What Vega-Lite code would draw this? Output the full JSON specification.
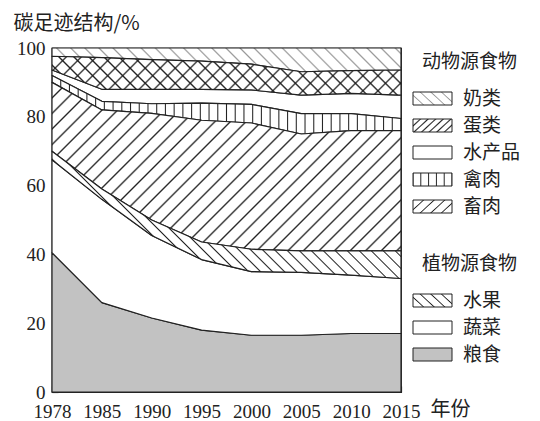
{
"$schema":"https://vega.github.io/schema/vega-lite/v6.json",
"width":349,"height":344,
"autosize":{"type":"none"},
"padding":{"left":52,"top":48,"right":139,"bottom":29},
"config":{"font":"Noto Sans CJK SC","view":{"stroke":"#222","strokeWidth":1.2}},
"data":{"values":[
{"year":"1978","food":"粮食","group":"plant","order":1,"value":40.5},
{"year":"1985","food":"粮食","group":"plant","order":1,"value":26},
{"year":"1990","food":"粮食","group":"plant","order":1,"value":21.5},
{"year":"1995","food":"粮食","group":"plant","order":1,"value":18},
{"year":"2000","food":"粮食","group":"plant","order":1,"value":16.5},
{"year":"2005","food":"粮食","group":"plant","order":1,"value":16.5},
{"year":"2010","food":"粮食","group":"plant","order":1,"value":17},
{"year":"2015","food":"粮食","group":"plant","order":1,"value":17},
{"year":"1978","food":"蔬菜","group":"plant","order":2,"value":27},
{"year":"1985","food":"蔬菜","group":"plant","order":2,"value":30},
{"year":"1990","food":"蔬菜","group":"plant","order":2,"value":24},
{"year":"1995","food":"蔬菜","group":"plant","order":2,"value":20.5},
{"year":"2000","food":"蔬菜","group":"plant","order":2,"value":18.5},
{"year":"2005","food":"蔬菜","group":"plant","order":2,"value":18.3},
{"year":"2010","food":"蔬菜","group":"plant","order":2,"value":17},
{"year":"2015","food":"蔬菜","group":"plant","order":2,"value":16},
{"year":"1978","food":"水果","group":"plant","order":3,"value":2.5},
{"year":"1985","food":"水果","group":"plant","order":3,"value":3},
{"year":"1990","food":"水果","group":"plant","order":3,"value":4.5},
{"year":"1995","food":"水果","group":"plant","order":3,"value":5.1},
{"year":"2000","food":"水果","group":"plant","order":3,"value":6.5},
{"year":"2005","food":"水果","group":"plant","order":3,"value":6.2},
{"year":"2010","food":"水果","group":"plant","order":3,"value":7},
{"year":"2015","food":"水果","group":"plant","order":3,"value":8},
{"year":"1978","food":"畜肉","group":"animal","order":4,"value":20},
{"year":"1985","food":"畜肉","group":"animal","order":4,"value":23},
{"year":"1990","food":"畜肉","group":"animal","order":4,"value":31},
{"year":"1995","food":"畜肉","group":"animal","order":4,"value":35.4},
{"year":"2000","food":"畜肉","group":"animal","order":4,"value":36.7},
{"year":"2005","food":"畜肉","group":"animal","order":4,"value":34},
{"year":"2010","food":"畜肉","group":"animal","order":4,"value":35},
{"year":"2015","food":"畜肉","group":"animal","order":4,"value":35},
{"year":"1978","food":"禽肉","group":"animal","order":5,"value":2},
{"year":"1985","food":"禽肉","group":"animal","order":5,"value":2.5},
{"year":"1990","food":"禽肉","group":"animal","order":5,"value":2.8},
{"year":"1995","food":"禽肉","group":"animal","order":5,"value":5},
{"year":"2000","food":"禽肉","group":"animal","order":5,"value":5.4},
{"year":"2005","food":"禽肉","group":"animal","order":5,"value":5.9},
{"year":"2010","food":"禽肉","group":"animal","order":5,"value":4.9},
{"year":"2015","food":"禽肉","group":"animal","order":5,"value":3.5},
{"year":"1978","food":"水产品","group":"animal","order":6,"value":1.6},
{"year":"1985","food":"水产品","group":"animal","order":6,"value":3.5},
{"year":"1990","food":"水产品","group":"animal","order":6,"value":4.2},
{"year":"1995","food":"水产品","group":"animal","order":6,"value":4},
{"year":"2000","food":"水产品","group":"animal","order":6,"value":4.2},
{"year":"2005","food":"水产品","group":"animal","order":6,"value":5.4},
{"year":"2010","food":"水产品","group":"animal","order":6,"value":5.9},
{"year":"2015","food":"水产品","group":"animal","order":6,"value":6.8},
{"year":"1978","food":"蛋类","group":"animal","order":7,"value":4},
{"year":"1985","food":"蛋类","group":"animal","order":7,"value":9.2},
{"year":"1990","food":"蛋类","group":"animal","order":7,"value":8.6},
{"year":"1995","food":"蛋类","group":"animal","order":7,"value":8.2},
{"year":"2000","food":"蛋类","group":"animal","order":7,"value":7.5},
{"year":"2005","food":"蛋类","group":"animal","order":7,"value":6.8},
{"year":"2010","food":"蛋类","group":"animal","order":7,"value":6.6},
{"year":"2015","food":"蛋类","group":"animal","order":7,"value":7.3},
{"year":"1978","food":"奶类","group":"animal","order":8,"value":2.4},
{"year":"1985","food":"奶类","group":"animal","order":8,"value":2.8},
{"year":"1990","food":"奶类","group":"animal","order":8,"value":3.4},
{"year":"1995","food":"奶类","group":"animal","order":8,"value":3.8},
{"year":"2000","food":"奶类","group":"animal","order":8,"value":4.7},
{"year":"2005","food":"奶类","group":"animal","order":8,"value":6.9},
{"year":"2010","food":"奶类","group":"animal","order":8,"value":6.6},
{"year":"2015","food":"奶类","group":"animal","order":8,"value":6.4}
]},
"transform":[{"stack":"value","groupby":["year"],"sort":[{"field":"order","order":"ascending"}],"as":["v0","v1"]}],
"encoding":{
"x":{"field":"year","type":"ordinal","scale":{"type":"point","padding":0},
"axis":{"title":"年份","labelAngle":0,"labelOverlap":false,"labelFlush":false,"grid":false,"tickSize":-6,"tickColor":"#222","tickWidth":1.2,"domainColor":"#222","domainWidth":1.2,"labelFont":"Liberation Serif","labelFontSize":19,"labelColor":"#222","labelPadding":16,"titleFont":"Noto Sans CJK SC","titleFontSize":20,"titleFontWeight":"normal","titleColor":"#222","titleX":378,"titleY":17,"titleAlign":"left","titleBaseline":"middle"}},
"y":{"field":"v1","type":"quantitative","scale":{"domain":[0,100],"nice":false},
"axis":{"title":"碳足迹结构/%","values":[0,20,40,60,80,100],"grid":false,"tickSize":-6,"tickColor":"#222","tickWidth":1.2,"domainColor":"#222","domainWidth":1.2,"labelFont":"Liberation Serif","labelFontSize":19,"labelColor":"#222","labelPadding":13,"labelFlush":false,"titleFont":"Noto Sans CJK SC","titleFontSize":20,"titleFontWeight":"normal","titleColor":"#222","titleAngle":0,"titleX":-39,"titleY":-25,"titleAlign":"left","titleBaseline":"middle"}},
"y2":{"field":"v0"}
},
"layer":[
{"transform":[{"filter":"datum.group==='animal'"}],
"mark":{"type":"area"},
"encoding":{"fill":{"field":"food","type":"nominal","scale":{"domain":["奶类","蛋类","水产品","禽肉","畜肉"],"range":[
{"expr":"{gradient:'linear',x1:0,y1:1,x2:1.204,y2:0.565,stops:[{offset:0,color:'#999'},{offset:0.025,color:'#fff'},{offset:0.175,color:'#fff'},{offset:0.2,color:'#999'},{offset:0.225,color:'#fff'},{offset:0.375,color:'#fff'},{offset:0.4,color:'#999'},{offset:0.425,color:'#fff'},{offset:0.575,color:'#fff'},{offset:0.6,color:'#999'},{offset:0.625,color:'#fff'},{offset:0.775,color:'#fff'},{offset:0.8,color:'#999'},{offset:0.825,color:'#fff'},{offset:0.975,color:'#fff'},{offset:1,color:'#999'}]}"},
{"expr":"{gradient:'linear',x1:0,y1:0,x2:1.204,y2:0.435,stops:[{offset:0,color:'#222'},{offset:0.03,color:'#fff'},{offset:0.112,color:'#fff'},{offset:0.142,color:'#222'},{offset:0.172,color:'#fff'},{offset:0.255,color:'#fff'},{offset:0.285,color:'#222'},{offset:0.315,color:'#fff'},{offset:0.398,color:'#fff'},{offset:0.428,color:'#222'},{offset:0.458,color:'#fff'},{offset:0.541,color:'#fff'},{offset:0.571,color:'#222'},{offset:0.601,color:'#fff'},{offset:0.684,color:'#fff'},{offset:0.714,color:'#222'},{offset:0.744,color:'#fff'},{offset:0.827,color:'#fff'},{offset:0.857,color:'#222'},{offset:0.887,color:'#fff'},{offset:0.97,color:'#fff'},{offset:1,color:'#222'}]}"},
"#ffffff",
{"expr":"{gradient:'linear',x1:0,y1:0,x2:1,y2:0,stops:[{offset:0,color:'#222'},{offset:0.025,color:'#fff'},{offset:0.175,color:'#fff'},{offset:0.2,color:'#222'},{offset:0.225,color:'#fff'},{offset:0.375,color:'#fff'},{offset:0.4,color:'#222'},{offset:0.425,color:'#fff'},{offset:0.575,color:'#fff'},{offset:0.6,color:'#222'},{offset:0.625,color:'#fff'},{offset:0.775,color:'#fff'},{offset:0.8,color:'#222'},{offset:0.825,color:'#fff'},{offset:0.975,color:'#fff'},{offset:1,color:'#222'}]}"},
{"expr":"{gradient:'linear',x1:0,y1:0,x2:1.204,y2:0.435,stops:[{offset:0,color:'#222'},{offset:0.025,color:'#fff'},{offset:0.175,color:'#fff'},{offset:0.2,color:'#222'},{offset:0.225,color:'#fff'},{offset:0.375,color:'#fff'},{offset:0.4,color:'#222'},{offset:0.425,color:'#fff'},{offset:0.575,color:'#fff'},{offset:0.6,color:'#222'},{offset:0.625,color:'#fff'},{offset:0.775,color:'#fff'},{offset:0.8,color:'#222'},{offset:0.825,color:'#fff'},{offset:0.975,color:'#fff'},{offset:1,color:'#222'}]}"}
]},
"legend":{"title":"动物源食物","orient":"none","legendX":370,"legendY":5,"padding":0,"symbolType":"M-1.95,-0.65H1.95V0.65H-1.95Z","symbolSize":400,"symbolStrokeColor":"#222","symbolStrokeWidth":1,"symbolOpacity":1,"labelFont":"Noto Sans CJK SC","labelFontSize":19,"labelColor":"#222","labelOffset":20,"titleFont":"Noto Sans CJK SC","titleFontSize":19,"titleFontWeight":"normal","titleColor":"#222","titlePadding":16,"rowPadding":6}}}},
{"transform":[{"filter":"datum.group==='plant'"}],
"mark":{"type":"area"},
"encoding":{"fill":{"field":"food","type":"nominal","scale":{"domain":["水果","蔬菜","粮食"],"range":[
{"expr":"{gradient:'linear',x1:0,y1:1,x2:1.204,y2:0.565,stops:[{offset:0,color:'#222'},{offset:0.025,color:'#fff'},{offset:0.175,color:'#fff'},{offset:0.2,color:'#222'},{offset:0.225,color:'#fff'},{offset:0.375,color:'#fff'},{offset:0.4,color:'#222'},{offset:0.425,color:'#fff'},{offset:0.575,color:'#fff'},{offset:0.6,color:'#222'},{offset:0.625,color:'#fff'},{offset:0.775,color:'#fff'},{offset:0.8,color:'#222'},{offset:0.825,color:'#fff'},{offset:0.975,color:'#fff'},{offset:1,color:'#222'}]}"},
"#ffffff","#c2c2c2"]},
"legend":{"title":"植物源食物","orient":"none","legendX":370,"legendY":207,"padding":0,"symbolType":"M-1.95,-0.65H1.95V0.65H-1.95Z","symbolSize":400,"symbolStrokeColor":"#222","symbolStrokeWidth":1,"symbolOpacity":1,"labelFont":"Noto Sans CJK SC","labelFontSize":19,"labelColor":"#222","labelOffset":20,"titleFont":"Noto Sans CJK SC","titleFontSize":19,"titleFontWeight":"normal","titleColor":"#222","titlePadding":16,"rowPadding":6}}}},
{"transform":[{"filter":"datum.food==='水产品'||datum.food==='蔬菜'||datum.food==='粮食'"}],
"mark":{"type":"area","stroke":"#222","strokeWidth":1.2,"strokeJoin":"round"},
"encoding":{"fill":{"field":"food","type":"nominal","legend":null,"scale":{"domain":["水产品","蔬菜","粮食"],"range":["#ffffff","#ffffff","#c2c2c2"]}}}},
{"transform":[{"filter":"datum.food==='奶类'"}],
"mark":{"type":"area","stroke":"#222","strokeWidth":1.2,"strokeJoin":"round","fill":
{"gradient":"linear","x1":0,"y1":1,"x2":1.61,"y2":0.891,"stops":[{"offset":0,"color":"#999"},{"offset":0.003,"color":"#fff"},{"offset":0.022,"color":"#fff"},{"offset":0.025,"color":"#999"},{"offset":0.028,"color":"#fff"},{"offset":0.047,"color":"#fff"},{"offset":0.05,"color":"#999"},{"offset":0.053,"color":"#fff"},{"offset":0.072,"color":"#fff"},{"offset":0.075,"color":"#999"},{"offset":0.078,"color":"#fff"},{"offset":0.097,"color":"#fff"},{"offset":0.1,"color":"#999"},{"offset":0.103,"color":"#fff"},{"offset":0.122,"color":"#fff"},{"offset":0.125,"color":"#999"},{"offset":0.128,"color":"#fff"},{"offset":0.147,"color":"#fff"},{"offset":0.15,"color":"#999"},{"offset":0.153,"color":"#fff"},{"offset":0.172,"color":"#fff"},{"offset":0.175,"color":"#999"},{"offset":0.178,"color":"#fff"},{"offset":0.197,"color":"#fff"},{"offset":0.2,"color":"#999"},{"offset":0.203,"color":"#fff"},{"offset":0.222,"color":"#fff"},{"offset":0.225,"color":"#999"},{"offset":0.228,"color":"#fff"},{"offset":0.247,"color":"#fff"},{"offset":0.25,"color":"#999"},{"offset":0.253,"color":"#fff"},{"offset":0.272,"color":"#fff"},{"offset":0.275,"color":"#999"},{"offset":0.278,"color":"#fff"},{"offset":0.297,"color":"#fff"},{"offset":0.3,"color":"#999"},{"offset":0.303,"color":"#fff"},{"offset":0.322,"color":"#fff"},{"offset":0.325,"color":"#999"},{"offset":0.328,"color":"#fff"},{"offset":0.347,"color":"#fff"},{"offset":0.35,"color":"#999"},{"offset":0.353,"color":"#fff"},{"offset":0.372,"color":"#fff"},{"offset":0.375,"color":"#999"},{"offset":0.378,"color":"#fff"},{"offset":0.397,"color":"#fff"},{"offset":0.4,"color":"#999"},{"offset":0.403,"color":"#fff"},{"offset":0.422,"color":"#fff"},{"offset":0.425,"color":"#999"},{"offset":0.428,"color":"#fff"},{"offset":0.447,"color":"#fff"},{"offset":0.45,"color":"#999"},{"offset":0.453,"color":"#fff"},{"offset":0.472,"color":"#fff"},{"offset":0.475,"color":"#999"},{"offset":0.478,"color":"#fff"},{"offset":0.497,"color":"#fff"},{"offset":0.5,"color":"#999"},{"offset":0.503,"color":"#fff"},{"offset":0.522,"color":"#fff"},{"offset":0.525,"color":"#999"},{"offset":0.528,"color":"#fff"},{"offset":0.547,"color":"#fff"},{"offset":0.55,"color":"#999"},{"offset":0.553,"color":"#fff"},{"offset":0.572,"color":"#fff"},{"offset":0.575,"color":"#999"},{"offset":0.578,"color":"#fff"},{"offset":0.597,"color":"#fff"},{"offset":0.6,"color":"#999"},{"offset":0.603,"color":"#fff"},{"offset":0.622,"color":"#fff"},{"offset":0.625,"color":"#999"},{"offset":0.628,"color":"#fff"},{"offset":0.647,"color":"#fff"},{"offset":0.65,"color":"#999"},{"offset":0.653,"color":"#fff"},{"offset":0.672,"color":"#fff"},{"offset":0.675,"color":"#999"},{"offset":0.678,"color":"#fff"},{"offset":0.697,"color":"#fff"},{"offset":0.7,"color":"#999"},{"offset":0.703,"color":"#fff"},{"offset":0.722,"color":"#fff"},{"offset":0.725,"color":"#999"},{"offset":0.728,"color":"#fff"},{"offset":0.747,"color":"#fff"},{"offset":0.75,"color":"#999"},{"offset":0.753,"color":"#fff"},{"offset":0.772,"color":"#fff"},{"offset":0.775,"color":"#999"},{"offset":0.778,"color":"#fff"},{"offset":0.797,"color":"#fff"},{"offset":0.8,"color":"#999"},{"offset":0.803,"color":"#fff"},{"offset":0.822,"color":"#fff"},{"offset":0.825,"color":"#999"},{"offset":0.828,"color":"#fff"},{"offset":0.847,"color":"#fff"},{"offset":0.85,"color":"#999"},{"offset":0.853,"color":"#fff"},{"offset":0.872,"color":"#fff"},{"offset":0.875,"color":"#999"},{"offset":0.878,"color":"#fff"},{"offset":0.897,"color":"#fff"},{"offset":0.9,"color":"#999"},{"offset":0.903,"color":"#fff"},{"offset":0.922,"color":"#fff"},{"offset":0.925,"color":"#999"},{"offset":0.928,"color":"#fff"},{"offset":0.947,"color":"#fff"},{"offset":0.95,"color":"#999"},{"offset":0.953,"color":"#fff"},{"offset":0.972,"color":"#fff"},{"offset":0.975,"color":"#999"},{"offset":0.978,"color":"#fff"},{"offset":0.997,"color":"#fff"},{"offset":1,"color":"#999"}]}},
"encoding":{}},
{"transform":[{"filter":"datum.food==='蛋类'"}],
"mark":{"type":"area","stroke":"#222","strokeWidth":1.2,"strokeJoin":"round","fill":
{"gradient":"linear","x1":0,"y1":0,"x2":1.7,"y2":0.189,"stops":[{"offset":0,"color":"#222"},{"offset":0.003,"color":"#fff"},{"offset":0.022,"color":"#fff"},{"offset":0.025,"color":"#222"},{"offset":0.028,"color":"#fff"},{"offset":0.047,"color":"#fff"},{"offset":0.05,"color":"#222"},{"offset":0.053,"color":"#fff"},{"offset":0.072,"color":"#fff"},{"offset":0.075,"color":"#222"},{"offset":0.078,"color":"#fff"},{"offset":0.097,"color":"#fff"},{"offset":0.1,"color":"#222"},{"offset":0.103,"color":"#fff"},{"offset":0.122,"color":"#fff"},{"offset":0.125,"color":"#222"},{"offset":0.128,"color":"#fff"},{"offset":0.147,"color":"#fff"},{"offset":0.15,"color":"#222"},{"offset":0.153,"color":"#fff"},{"offset":0.172,"color":"#fff"},{"offset":0.175,"color":"#222"},{"offset":0.178,"color":"#fff"},{"offset":0.197,"color":"#fff"},{"offset":0.2,"color":"#222"},{"offset":0.203,"color":"#fff"},{"offset":0.222,"color":"#fff"},{"offset":0.225,"color":"#222"},{"offset":0.228,"color":"#fff"},{"offset":0.247,"color":"#fff"},{"offset":0.25,"color":"#222"},{"offset":0.253,"color":"#fff"},{"offset":0.272,"color":"#fff"},{"offset":0.275,"color":"#222"},{"offset":0.278,"color":"#fff"},{"offset":0.297,"color":"#fff"},{"offset":0.3,"color":"#222"},{"offset":0.303,"color":"#fff"},{"offset":0.322,"color":"#fff"},{"offset":0.325,"color":"#222"},{"offset":0.328,"color":"#fff"},{"offset":0.347,"color":"#fff"},{"offset":0.35,"color":"#222"},{"offset":0.353,"color":"#fff"},{"offset":0.372,"color":"#fff"},{"offset":0.375,"color":"#222"},{"offset":0.378,"color":"#fff"},{"offset":0.397,"color":"#fff"},{"offset":0.4,"color":"#222"},{"offset":0.403,"color":"#fff"},{"offset":0.422,"color":"#fff"},{"offset":0.425,"color":"#222"},{"offset":0.428,"color":"#fff"},{"offset":0.447,"color":"#fff"},{"offset":0.45,"color":"#222"},{"offset":0.453,"color":"#fff"},{"offset":0.472,"color":"#fff"},{"offset":0.475,"color":"#222"},{"offset":0.478,"color":"#fff"},{"offset":0.497,"color":"#fff"},{"offset":0.5,"color":"#222"},{"offset":0.503,"color":"#fff"},{"offset":0.522,"color":"#fff"},{"offset":0.525,"color":"#222"},{"offset":0.528,"color":"#fff"},{"offset":0.547,"color":"#fff"},{"offset":0.55,"color":"#222"},{"offset":0.553,"color":"#fff"},{"offset":0.572,"color":"#fff"},{"offset":0.575,"color":"#222"},{"offset":0.578,"color":"#fff"},{"offset":0.597,"color":"#fff"},{"offset":0.6,"color":"#222"},{"offset":0.603,"color":"#fff"},{"offset":0.622,"color":"#fff"},{"offset":0.625,"color":"#222"},{"offset":0.628,"color":"#fff"},{"offset":0.647,"color":"#fff"},{"offset":0.65,"color":"#222"},{"offset":0.653,"color":"#fff"},{"offset":0.672,"color":"#fff"},{"offset":0.675,"color":"#222"},{"offset":0.678,"color":"#fff"},{"offset":0.697,"color":"#fff"},{"offset":0.7,"color":"#222"},{"offset":0.703,"color":"#fff"},{"offset":0.722,"color":"#fff"},{"offset":0.725,"color":"#222"},{"offset":0.728,"color":"#fff"},{"offset":0.747,"color":"#fff"},{"offset":0.75,"color":"#222"},{"offset":0.753,"color":"#fff"},{"offset":0.772,"color":"#fff"},{"offset":0.775,"color":"#222"},{"offset":0.778,"color":"#fff"},{"offset":0.797,"color":"#fff"},{"offset":0.8,"color":"#222"},{"offset":0.803,"color":"#fff"},{"offset":0.822,"color":"#fff"},{"offset":0.825,"color":"#222"},{"offset":0.828,"color":"#fff"},{"offset":0.847,"color":"#fff"},{"offset":0.85,"color":"#222"},{"offset":0.853,"color":"#fff"},{"offset":0.872,"color":"#fff"},{"offset":0.875,"color":"#222"},{"offset":0.878,"color":"#fff"},{"offset":0.897,"color":"#fff"},{"offset":0.9,"color":"#222"},{"offset":0.903,"color":"#fff"},{"offset":0.922,"color":"#fff"},{"offset":0.925,"color":"#222"},{"offset":0.928,"color":"#fff"},{"offset":0.947,"color":"#fff"},{"offset":0.95,"color":"#222"},{"offset":0.953,"color":"#fff"},{"offset":0.972,"color":"#fff"},{"offset":0.975,"color":"#222"},{"offset":0.978,"color":"#fff"},{"offset":0.997,"color":"#fff"},{"offset":1,"color":"#222"}]}},
"encoding":{}},
{"transform":[{"filter":"datum.food==='蛋类'"}],
"mark":{"type":"area","fill":{"gradient":"linear","x1":0,"y1":1,"x2":1.7,"y2":0.811,"stops":[{"offset":0,"color":"#222"},{"offset":0.003,"color":"rgba(0,0,0,0)"},{"offset":0.022,"color":"rgba(0,0,0,0)"},{"offset":0.025,"color":"#222"},{"offset":0.028,"color":"rgba(0,0,0,0)"},{"offset":0.047,"color":"rgba(0,0,0,0)"},{"offset":0.05,"color":"#222"},{"offset":0.053,"color":"rgba(0,0,0,0)"},{"offset":0.072,"color":"rgba(0,0,0,0)"},{"offset":0.075,"color":"#222"},{"offset":0.078,"color":"rgba(0,0,0,0)"},{"offset":0.097,"color":"rgba(0,0,0,0)"},{"offset":0.1,"color":"#222"},{"offset":0.103,"color":"rgba(0,0,0,0)"},{"offset":0.122,"color":"rgba(0,0,0,0)"},{"offset":0.125,"color":"#222"},{"offset":0.128,"color":"rgba(0,0,0,0)"},{"offset":0.147,"color":"rgba(0,0,0,0)"},{"offset":0.15,"color":"#222"},{"offset":0.153,"color":"rgba(0,0,0,0)"},{"offset":0.172,"color":"rgba(0,0,0,0)"},{"offset":0.175,"color":"#222"},{"offset":0.178,"color":"rgba(0,0,0,0)"},{"offset":0.197,"color":"rgba(0,0,0,0)"},{"offset":0.2,"color":"#222"},{"offset":0.203,"color":"rgba(0,0,0,0)"},{"offset":0.222,"color":"rgba(0,0,0,0)"},{"offset":0.225,"color":"#222"},{"offset":0.228,"color":"rgba(0,0,0,0)"},{"offset":0.247,"color":"rgba(0,0,0,0)"},{"offset":0.25,"color":"#222"},{"offset":0.253,"color":"rgba(0,0,0,0)"},{"offset":0.272,"color":"rgba(0,0,0,0)"},{"offset":0.275,"color":"#222"},{"offset":0.278,"color":"rgba(0,0,0,0)"},{"offset":0.297,"color":"rgba(0,0,0,0)"},{"offset":0.3,"color":"#222"},{"offset":0.303,"color":"rgba(0,0,0,0)"},{"offset":0.322,"color":"rgba(0,0,0,0)"},{"offset":0.325,"color":"#222"},{"offset":0.328,"color":"rgba(0,0,0,0)"},{"offset":0.347,"color":"rgba(0,0,0,0)"},{"offset":0.35,"color":"#222"},{"offset":0.353,"color":"rgba(0,0,0,0)"},{"offset":0.372,"color":"rgba(0,0,0,0)"},{"offset":0.375,"color":"#222"},{"offset":0.378,"color":"rgba(0,0,0,0)"},{"offset":0.397,"color":"rgba(0,0,0,0)"},{"offset":0.4,"color":"#222"},{"offset":0.403,"color":"rgba(0,0,0,0)"},{"offset":0.422,"color":"rgba(0,0,0,0)"},{"offset":0.425,"color":"#222"},{"offset":0.428,"color":"rgba(0,0,0,0)"},{"offset":0.447,"color":"rgba(0,0,0,0)"},{"offset":0.45,"color":"#222"},{"offset":0.453,"color":"rgba(0,0,0,0)"},{"offset":0.472,"color":"rgba(0,0,0,0)"},{"offset":0.475,"color":"#222"},{"offset":0.478,"color":"rgba(0,0,0,0)"},{"offset":0.497,"color":"rgba(0,0,0,0)"},{"offset":0.5,"color":"#222"},{"offset":0.503,"color":"rgba(0,0,0,0)"},{"offset":0.522,"color":"rgba(0,0,0,0)"},{"offset":0.525,"color":"#222"},{"offset":0.528,"color":"rgba(0,0,0,0)"},{"offset":0.547,"color":"rgba(0,0,0,0)"},{"offset":0.55,"color":"#222"},{"offset":0.553,"color":"rgba(0,0,0,0)"},{"offset":0.572,"color":"rgba(0,0,0,0)"},{"offset":0.575,"color":"#222"},{"offset":0.578,"color":"rgba(0,0,0,0)"},{"offset":0.597,"color":"rgba(0,0,0,0)"},{"offset":0.6,"color":"#222"},{"offset":0.603,"color":"rgba(0,0,0,0)"},{"offset":0.622,"color":"rgba(0,0,0,0)"},{"offset":0.625,"color":"#222"},{"offset":0.628,"color":"rgba(0,0,0,0)"},{"offset":0.647,"color":"rgba(0,0,0,0)"},{"offset":0.65,"color":"#222"},{"offset":0.653,"color":"rgba(0,0,0,0)"},{"offset":0.672,"color":"rgba(0,0,0,0)"},{"offset":0.675,"color":"#222"},{"offset":0.678,"color":"rgba(0,0,0,0)"},{"offset":0.697,"color":"rgba(0,0,0,0)"},{"offset":0.7,"color":"#222"},{"offset":0.703,"color":"rgba(0,0,0,0)"},{"offset":0.722,"color":"rgba(0,0,0,0)"},{"offset":0.725,"color":"#222"},{"offset":0.728,"color":"rgba(0,0,0,0)"},{"offset":0.747,"color":"rgba(0,0,0,0)"},{"offset":0.75,"color":"#222"},{"offset":0.753,"color":"rgba(0,0,0,0)"},{"offset":0.772,"color":"rgba(0,0,0,0)"},{"offset":0.775,"color":"#222"},{"offset":0.778,"color":"rgba(0,0,0,0)"},{"offset":0.797,"color":"rgba(0,0,0,0)"},{"offset":0.8,"color":"#222"},{"offset":0.803,"color":"rgba(0,0,0,0)"},{"offset":0.822,"color":"rgba(0,0,0,0)"},{"offset":0.825,"color":"#222"},{"offset":0.828,"color":"rgba(0,0,0,0)"},{"offset":0.847,"color":"rgba(0,0,0,0)"},{"offset":0.85,"color":"#222"},{"offset":0.853,"color":"rgba(0,0,0,0)"},{"offset":0.872,"color":"rgba(0,0,0,0)"},{"offset":0.875,"color":"#222"},{"offset":0.878,"color":"rgba(0,0,0,0)"},{"offset":0.897,"color":"rgba(0,0,0,0)"},{"offset":0.9,"color":"#222"},{"offset":0.903,"color":"rgba(0,0,0,0)"},{"offset":0.922,"color":"rgba(0,0,0,0)"},{"offset":0.925,"color":"#222"},{"offset":0.928,"color":"rgba(0,0,0,0)"},{"offset":0.947,"color":"rgba(0,0,0,0)"},{"offset":0.95,"color":"#222"},{"offset":0.953,"color":"rgba(0,0,0,0)"},{"offset":0.972,"color":"rgba(0,0,0,0)"},{"offset":0.975,"color":"#222"},{"offset":0.978,"color":"rgba(0,0,0,0)"},{"offset":0.997,"color":"rgba(0,0,0,0)"},{"offset":1,"color":"#222"}]}},
"encoding":{}},
{"transform":[{"filter":"datum.food==='禽肉'"}],
"mark":{"type":"area","stroke":"#222","strokeWidth":1.2,"strokeJoin":"round","fill":
{"gradient":"linear","x1":0,"y1":0,"x2":1,"y2":0,"stops":[{"offset":0,"color":"#222"},{"offset":0.003,"color":"#fff"},{"offset":0.022,"color":"#fff"},{"offset":0.025,"color":"#222"},{"offset":0.028,"color":"#fff"},{"offset":0.047,"color":"#fff"},{"offset":0.05,"color":"#222"},{"offset":0.053,"color":"#fff"},{"offset":0.072,"color":"#fff"},{"offset":0.075,"color":"#222"},{"offset":0.078,"color":"#fff"},{"offset":0.097,"color":"#fff"},{"offset":0.1,"color":"#222"},{"offset":0.103,"color":"#fff"},{"offset":0.122,"color":"#fff"},{"offset":0.125,"color":"#222"},{"offset":0.128,"color":"#fff"},{"offset":0.147,"color":"#fff"},{"offset":0.15,"color":"#222"},{"offset":0.153,"color":"#fff"},{"offset":0.172,"color":"#fff"},{"offset":0.175,"color":"#222"},{"offset":0.178,"color":"#fff"},{"offset":0.197,"color":"#fff"},{"offset":0.2,"color":"#222"},{"offset":0.203,"color":"#fff"},{"offset":0.222,"color":"#fff"},{"offset":0.225,"color":"#222"},{"offset":0.228,"color":"#fff"},{"offset":0.247,"color":"#fff"},{"offset":0.25,"color":"#222"},{"offset":0.253,"color":"#fff"},{"offset":0.272,"color":"#fff"},{"offset":0.275,"color":"#222"},{"offset":0.278,"color":"#fff"},{"offset":0.297,"color":"#fff"},{"offset":0.3,"color":"#222"},{"offset":0.303,"color":"#fff"},{"offset":0.322,"color":"#fff"},{"offset":0.325,"color":"#222"},{"offset":0.328,"color":"#fff"},{"offset":0.347,"color":"#fff"},{"offset":0.35,"color":"#222"},{"offset":0.353,"color":"#fff"},{"offset":0.372,"color":"#fff"},{"offset":0.375,"color":"#222"},{"offset":0.378,"color":"#fff"},{"offset":0.397,"color":"#fff"},{"offset":0.4,"color":"#222"},{"offset":0.403,"color":"#fff"},{"offset":0.422,"color":"#fff"},{"offset":0.425,"color":"#222"},{"offset":0.428,"color":"#fff"},{"offset":0.447,"color":"#fff"},{"offset":0.45,"color":"#222"},{"offset":0.453,"color":"#fff"},{"offset":0.472,"color":"#fff"},{"offset":0.475,"color":"#222"},{"offset":0.478,"color":"#fff"},{"offset":0.497,"color":"#fff"},{"offset":0.5,"color":"#222"},{"offset":0.503,"color":"#fff"},{"offset":0.522,"color":"#fff"},{"offset":0.525,"color":"#222"},{"offset":0.528,"color":"#fff"},{"offset":0.547,"color":"#fff"},{"offset":0.55,"color":"#222"},{"offset":0.553,"color":"#fff"},{"offset":0.572,"color":"#fff"},{"offset":0.575,"color":"#222"},{"offset":0.578,"color":"#fff"},{"offset":0.597,"color":"#fff"},{"offset":0.6,"color":"#222"},{"offset":0.603,"color":"#fff"},{"offset":0.622,"color":"#fff"},{"offset":0.625,"color":"#222"},{"offset":0.628,"color":"#fff"},{"offset":0.647,"color":"#fff"},{"offset":0.65,"color":"#222"},{"offset":0.653,"color":"#fff"},{"offset":0.672,"color":"#fff"},{"offset":0.675,"color":"#222"},{"offset":0.678,"color":"#fff"},{"offset":0.697,"color":"#fff"},{"offset":0.7,"color":"#222"},{"offset":0.703,"color":"#fff"},{"offset":0.722,"color":"#fff"},{"offset":0.725,"color":"#222"},{"offset":0.728,"color":"#fff"},{"offset":0.747,"color":"#fff"},{"offset":0.75,"color":"#222"},{"offset":0.753,"color":"#fff"},{"offset":0.772,"color":"#fff"},{"offset":0.775,"color":"#222"},{"offset":0.778,"color":"#fff"},{"offset":0.797,"color":"#fff"},{"offset":0.8,"color":"#222"},{"offset":0.803,"color":"#fff"},{"offset":0.822,"color":"#fff"},{"offset":0.825,"color":"#222"},{"offset":0.828,"color":"#fff"},{"offset":0.847,"color":"#fff"},{"offset":0.85,"color":"#222"},{"offset":0.853,"color":"#fff"},{"offset":0.872,"color":"#fff"},{"offset":0.875,"color":"#222"},{"offset":0.878,"color":"#fff"},{"offset":0.897,"color":"#fff"},{"offset":0.9,"color":"#222"},{"offset":0.903,"color":"#fff"},{"offset":0.922,"color":"#fff"},{"offset":0.925,"color":"#222"},{"offset":0.928,"color":"#fff"},{"offset":0.947,"color":"#fff"},{"offset":0.95,"color":"#222"},{"offset":0.953,"color":"#fff"},{"offset":0.972,"color":"#fff"},{"offset":0.975,"color":"#222"},{"offset":0.978,"color":"#fff"},{"offset":0.997,"color":"#fff"},{"offset":1,"color":"#222"}]}},
"encoding":{}},
{"transform":[{"filter":"datum.food==='畜肉'"}],
"mark":{"type":"area","stroke":"#222","strokeWidth":1.2,"strokeJoin":"round","fill":
{"gradient":"linear","x1":0,"y1":0,"x2":1.445,"y2":0.698,"stops":[{"offset":0,"color":"#222"},{"offset":0.003,"color":"#fff"},{"offset":0.022,"color":"#fff"},{"offset":0.025,"color":"#222"},{"offset":0.028,"color":"#fff"},{"offset":0.047,"color":"#fff"},{"offset":0.05,"color":"#222"},{"offset":0.053,"color":"#fff"},{"offset":0.072,"color":"#fff"},{"offset":0.075,"color":"#222"},{"offset":0.078,"color":"#fff"},{"offset":0.097,"color":"#fff"},{"offset":0.1,"color":"#222"},{"offset":0.103,"color":"#fff"},{"offset":0.122,"color":"#fff"},{"offset":0.125,"color":"#222"},{"offset":0.128,"color":"#fff"},{"offset":0.147,"color":"#fff"},{"offset":0.15,"color":"#222"},{"offset":0.153,"color":"#fff"},{"offset":0.172,"color":"#fff"},{"offset":0.175,"color":"#222"},{"offset":0.178,"color":"#fff"},{"offset":0.197,"color":"#fff"},{"offset":0.2,"color":"#222"},{"offset":0.203,"color":"#fff"},{"offset":0.222,"color":"#fff"},{"offset":0.225,"color":"#222"},{"offset":0.228,"color":"#fff"},{"offset":0.247,"color":"#fff"},{"offset":0.25,"color":"#222"},{"offset":0.253,"color":"#fff"},{"offset":0.272,"color":"#fff"},{"offset":0.275,"color":"#222"},{"offset":0.278,"color":"#fff"},{"offset":0.297,"color":"#fff"},{"offset":0.3,"color":"#222"},{"offset":0.303,"color":"#fff"},{"offset":0.322,"color":"#fff"},{"offset":0.325,"color":"#222"},{"offset":0.328,"color":"#fff"},{"offset":0.347,"color":"#fff"},{"offset":0.35,"color":"#222"},{"offset":0.353,"color":"#fff"},{"offset":0.372,"color":"#fff"},{"offset":0.375,"color":"#222"},{"offset":0.378,"color":"#fff"},{"offset":0.397,"color":"#fff"},{"offset":0.4,"color":"#222"},{"offset":0.403,"color":"#fff"},{"offset":0.422,"color":"#fff"},{"offset":0.425,"color":"#222"},{"offset":0.428,"color":"#fff"},{"offset":0.447,"color":"#fff"},{"offset":0.45,"color":"#222"},{"offset":0.453,"color":"#fff"},{"offset":0.472,"color":"#fff"},{"offset":0.475,"color":"#222"},{"offset":0.478,"color":"#fff"},{"offset":0.497,"color":"#fff"},{"offset":0.5,"color":"#222"},{"offset":0.503,"color":"#fff"},{"offset":0.522,"color":"#fff"},{"offset":0.525,"color":"#222"},{"offset":0.528,"color":"#fff"},{"offset":0.547,"color":"#fff"},{"offset":0.55,"color":"#222"},{"offset":0.553,"color":"#fff"},{"offset":0.572,"color":"#fff"},{"offset":0.575,"color":"#222"},{"offset":0.578,"color":"#fff"},{"offset":0.597,"color":"#fff"},{"offset":0.6,"color":"#222"},{"offset":0.603,"color":"#fff"},{"offset":0.622,"color":"#fff"},{"offset":0.625,"color":"#222"},{"offset":0.628,"color":"#fff"},{"offset":0.647,"color":"#fff"},{"offset":0.65,"color":"#222"},{"offset":0.653,"color":"#fff"},{"offset":0.672,"color":"#fff"},{"offset":0.675,"color":"#222"},{"offset":0.678,"color":"#fff"},{"offset":0.697,"color":"#fff"},{"offset":0.7,"color":"#222"},{"offset":0.703,"color":"#fff"},{"offset":0.722,"color":"#fff"},{"offset":0.725,"color":"#222"},{"offset":0.728,"color":"#fff"},{"offset":0.747,"color":"#fff"},{"offset":0.75,"color":"#222"},{"offset":0.753,"color":"#fff"},{"offset":0.772,"color":"#fff"},{"offset":0.775,"color":"#222"},{"offset":0.778,"color":"#fff"},{"offset":0.797,"color":"#fff"},{"offset":0.8,"color":"#222"},{"offset":0.803,"color":"#fff"},{"offset":0.822,"color":"#fff"},{"offset":0.825,"color":"#222"},{"offset":0.828,"color":"#fff"},{"offset":0.847,"color":"#fff"},{"offset":0.85,"color":"#222"},{"offset":0.853,"color":"#fff"},{"offset":0.872,"color":"#fff"},{"offset":0.875,"color":"#222"},{"offset":0.878,"color":"#fff"},{"offset":0.897,"color":"#fff"},{"offset":0.9,"color":"#222"},{"offset":0.903,"color":"#fff"},{"offset":0.922,"color":"#fff"},{"offset":0.925,"color":"#222"},{"offset":0.928,"color":"#fff"},{"offset":0.947,"color":"#fff"},{"offset":0.95,"color":"#222"},{"offset":0.953,"color":"#fff"},{"offset":0.972,"color":"#fff"},{"offset":0.975,"color":"#222"},{"offset":0.978,"color":"#fff"},{"offset":0.997,"color":"#fff"},{"offset":1,"color":"#222"}]}},
"encoding":{}},
{"transform":[{"filter":"datum.food==='水果'"}],
"mark":{"type":"area","stroke":"#222","strokeWidth":1.2,"strokeJoin":"round","fill":
{"gradient":"linear","x1":0,"y1":1,"x2":1.21,"y2":0.558,"stops":[{"offset":0,"color":"#222"},{"offset":0.003,"color":"#fff"},{"offset":0.022,"color":"#fff"},{"offset":0.025,"color":"#222"},{"offset":0.028,"color":"#fff"},{"offset":0.047,"color":"#fff"},{"offset":0.05,"color":"#222"},{"offset":0.053,"color":"#fff"},{"offset":0.072,"color":"#fff"},{"offset":0.075,"color":"#222"},{"offset":0.078,"color":"#fff"},{"offset":0.097,"color":"#fff"},{"offset":0.1,"color":"#222"},{"offset":0.103,"color":"#fff"},{"offset":0.122,"color":"#fff"},{"offset":0.125,"color":"#222"},{"offset":0.128,"color":"#fff"},{"offset":0.147,"color":"#fff"},{"offset":0.15,"color":"#222"},{"offset":0.153,"color":"#fff"},{"offset":0.172,"color":"#fff"},{"offset":0.175,"color":"#222"},{"offset":0.178,"color":"#fff"},{"offset":0.197,"color":"#fff"},{"offset":0.2,"color":"#222"},{"offset":0.203,"color":"#fff"},{"offset":0.222,"color":"#fff"},{"offset":0.225,"color":"#222"},{"offset":0.228,"color":"#fff"},{"offset":0.247,"color":"#fff"},{"offset":0.25,"color":"#222"},{"offset":0.253,"color":"#fff"},{"offset":0.272,"color":"#fff"},{"offset":0.275,"color":"#222"},{"offset":0.278,"color":"#fff"},{"offset":0.297,"color":"#fff"},{"offset":0.3,"color":"#222"},{"offset":0.303,"color":"#fff"},{"offset":0.322,"color":"#fff"},{"offset":0.325,"color":"#222"},{"offset":0.328,"color":"#fff"},{"offset":0.347,"color":"#fff"},{"offset":0.35,"color":"#222"},{"offset":0.353,"color":"#fff"},{"offset":0.372,"color":"#fff"},{"offset":0.375,"color":"#222"},{"offset":0.378,"color":"#fff"},{"offset":0.397,"color":"#fff"},{"offset":0.4,"color":"#222"},{"offset":0.403,"color":"#fff"},{"offset":0.422,"color":"#fff"},{"offset":0.425,"color":"#222"},{"offset":0.428,"color":"#fff"},{"offset":0.447,"color":"#fff"},{"offset":0.45,"color":"#222"},{"offset":0.453,"color":"#fff"},{"offset":0.472,"color":"#fff"},{"offset":0.475,"color":"#222"},{"offset":0.478,"color":"#fff"},{"offset":0.497,"color":"#fff"},{"offset":0.5,"color":"#222"},{"offset":0.503,"color":"#fff"},{"offset":0.522,"color":"#fff"},{"offset":0.525,"color":"#222"},{"offset":0.528,"color":"#fff"},{"offset":0.547,"color":"#fff"},{"offset":0.55,"color":"#222"},{"offset":0.553,"color":"#fff"},{"offset":0.572,"color":"#fff"},{"offset":0.575,"color":"#222"},{"offset":0.578,"color":"#fff"},{"offset":0.597,"color":"#fff"},{"offset":0.6,"color":"#222"},{"offset":0.603,"color":"#fff"},{"offset":0.622,"color":"#fff"},{"offset":0.625,"color":"#222"},{"offset":0.628,"color":"#fff"},{"offset":0.647,"color":"#fff"},{"offset":0.65,"color":"#222"},{"offset":0.653,"color":"#fff"},{"offset":0.672,"color":"#fff"},{"offset":0.675,"color":"#222"},{"offset":0.678,"color":"#fff"},{"offset":0.697,"color":"#fff"},{"offset":0.7,"color":"#222"},{"offset":0.703,"color":"#fff"},{"offset":0.722,"color":"#fff"},{"offset":0.725,"color":"#222"},{"offset":0.728,"color":"#fff"},{"offset":0.747,"color":"#fff"},{"offset":0.75,"color":"#222"},{"offset":0.753,"color":"#fff"},{"offset":0.772,"color":"#fff"},{"offset":0.775,"color":"#222"},{"offset":0.778,"color":"#fff"},{"offset":0.797,"color":"#fff"},{"offset":0.8,"color":"#222"},{"offset":0.803,"color":"#fff"},{"offset":0.822,"color":"#fff"},{"offset":0.825,"color":"#222"},{"offset":0.828,"color":"#fff"},{"offset":0.847,"color":"#fff"},{"offset":0.85,"color":"#222"},{"offset":0.853,"color":"#fff"},{"offset":0.872,"color":"#fff"},{"offset":0.875,"color":"#222"},{"offset":0.878,"color":"#fff"},{"offset":0.897,"color":"#fff"},{"offset":0.9,"color":"#222"},{"offset":0.903,"color":"#fff"},{"offset":0.922,"color":"#fff"},{"offset":0.925,"color":"#222"},{"offset":0.928,"color":"#fff"},{"offset":0.947,"color":"#fff"},{"offset":0.95,"color":"#222"},{"offset":0.953,"color":"#fff"},{"offset":0.972,"color":"#fff"},{"offset":0.975,"color":"#222"},{"offset":0.978,"color":"#fff"},{"offset":0.997,"color":"#fff"},{"offset":1,"color":"#222"}]}},
"encoding":{}}
],
"resolve":{"scale":{"fill":"independent"},"legend":{"fill":"independent"}}
}
